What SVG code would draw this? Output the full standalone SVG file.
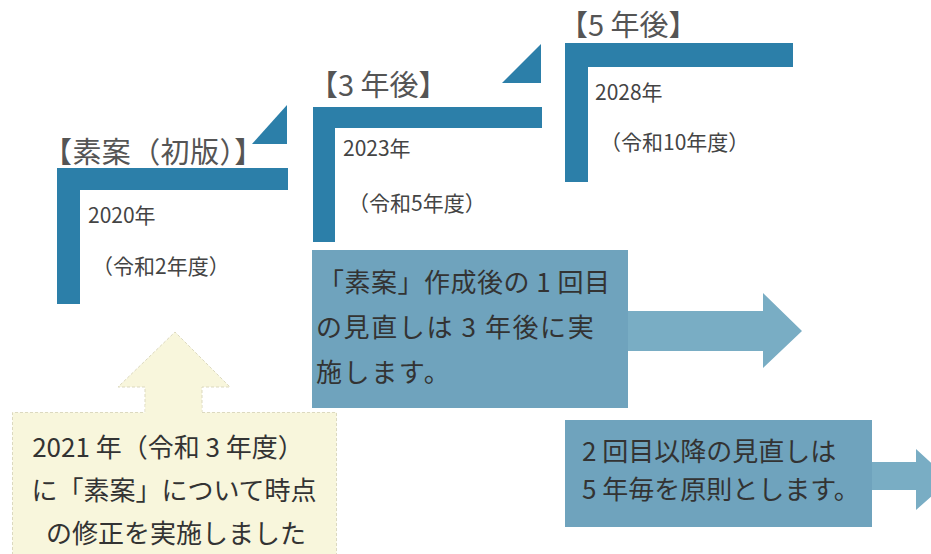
<svg xmlns="http://www.w3.org/2000/svg" width="931" height="554" viewBox="0 0 931 554">
<style>
.bar{fill:#2c7fa9}
.box{fill:#6fa3bd}
.arr{fill:#79adc4}
.yel{fill:#f8f6dc;stroke:#dcd9bf;stroke-width:1;stroke-dasharray:3 2}
.head{font-family:"Noto Sans CJK JP","Noto Sans",sans-serif;font-size:29px;fill:#555}
.yr{font-family:"Noto Sans CJK JP","Noto Sans",sans-serif;font-size:21px;fill:#444}
.bt{font-family:"Noto Sans CJK JP","Noto Sans",sans-serif;font-size:26px;fill:#333}
</style>
<rect width="931" height="554" fill="#ffffff"/>
<g id="step1">
<path class="bar" d="M57,168 H288 V190 H80 V304 H57 Z"/>
<polygon class="bar" points="252,144 287,105 287,144"/>
<text class="head" x="43" y="163" letter-spacing="0.4">【素案（初版）】</text>
<text class="yr" x="88" y="223">2020年</text>
<text class="yr" x="92" y="274">（令和2年度）</text>
</g>
<g id="step2">
<path class="bar" d="M313,107 H542 V128 H335 V242 H313 Z"/>
<polygon class="bar" points="502,83 541,44 541,83"/>
<text class="head" x="309" y="96">【3 年後】</text>
<text class="yr" x="343" y="156">2023年</text>
<text class="yr" x="348" y="211">（令和5年度）</text>
</g>
<g id="step3">
<path class="bar" d="M565,43 H793 V67 H588 V182 H565 Z"/>
<text class="head" x="559" y="36">【5 年後】</text>
<text class="yr" x="595" y="100">2028年</text>
<text class="yr" x="600" y="150">（令和10年度）</text>
</g>
<g id="connectors">
<polygon class="arr" points="628,311 763,311 763,293 802,331 763,368 763,351 628,351"/>
<polygon class="arr" points="872,462 916,462 916,449 950,480 916,510 916,490 872,490"/>
<path class="yel" d="M145,412 V387 H118 L175,332 L230,387 H202 V412"/>
</g>
<g id="box1">
<rect class="box" x="312" y="250" width="316" height="158"/>
<text class="bt" x="318" y="292" letter-spacing="0.5">「素案」作成後の 1 回目</text>
<text class="bt" x="316" y="337" letter-spacing="1.6">の見直しは 3 年後に実</text>
<text class="bt" x="316" y="382" letter-spacing="1.6">施します。</text>
</g>
<g id="box2">
<rect class="box" x="565" y="420" width="307" height="107"/>
<text class="bt" x="582" y="461">2 回目以降の見直しは</text>
<text class="bt" x="582" y="499">5 年毎を原則とします。</text>
</g>
<g id="box3">
<rect x="12.5" y="412.5" width="324" height="150" fill="#f8f6dc"/>
<rect x="145.5" y="405" width="56" height="10" fill="#f8f6dc"/>
<path d="M12.5,560 V412.5 H145 M202,412.5 H336.5 V560" fill="none" stroke="#dcd9bf" stroke-dasharray="3 2"/>
<text class="bt" x="168" y="457" text-anchor="middle">2021 年（令和 3 年度）</text>
<text class="bt" x="174" y="500" text-anchor="middle">に「素案」について時点</text>
<text class="bt" x="176" y="543" text-anchor="middle">の修正を実施しました</text>
</g>
</svg>
